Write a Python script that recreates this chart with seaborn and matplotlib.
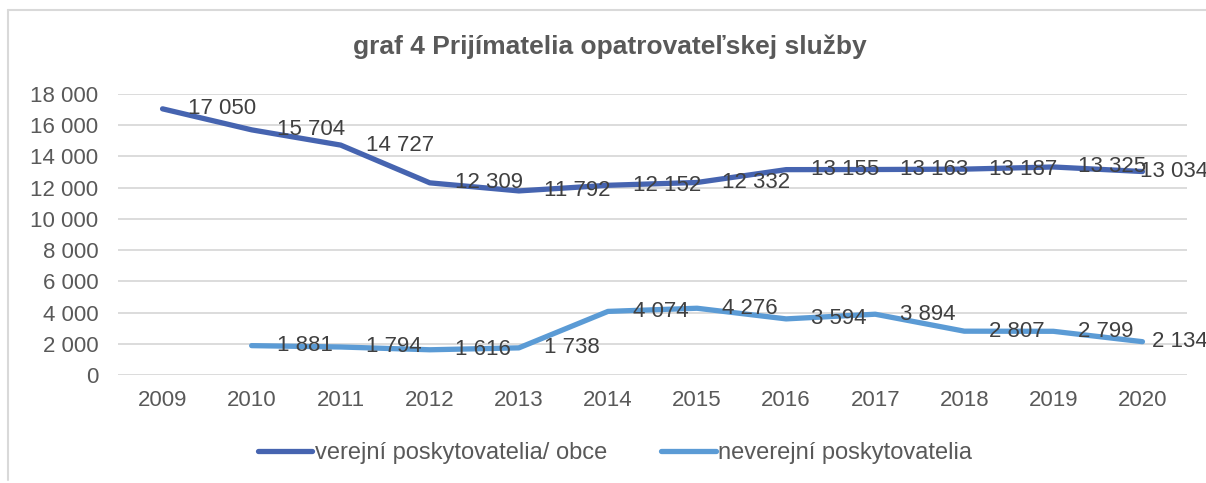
import seaborn as sns
import numpy as np
import matplotlib.pyplot as plt
import pandas as pd
from matplotlib.lines import Line2D
from matplotlib.ticker import FuncFormatter

years = [2009, 2010, 2011, 2012, 2013, 2014, 2015, 2016, 2017, 2018, 2019, 2020]
verejni = [17050, 15704, 14727, 12309, 11792, 12152, 12332, 13155, 13163, 13187, 13325, 13034]
neverejni = [np.nan, 1881, 1794, 1616, 1738, 4074, 4276, 3594, 3894, 2807, 2799, 2134]
series_names = ['verejní poskytovatelia/ obce', 'neverejní poskytovatelia']
title = 'graf 4 Prijímatelia opatrovateľskej služby'

df = pd.DataFrame({'rok': years, series_names[0]: verejni, series_names[1]: neverejni})
df = df.melt(id_vars='rok', var_name='typ', value_name='pocet')

sns.set_theme(style='white')
plt.rcParams['font.family'] = ['Liberation Sans', 'DejaVu Sans']

cols = ['#4664B0', '#5B9BD5']
fig = plt.figure(figsize=(12.06, 4.83), dpi=100)
ax = fig.add_axes([118 / 1206, 1 - 375 / 483, (1187 - 118) / 1206, (375 - 94) / 483])

sns.lineplot(data=df, x='rok', y='pocet', hue='typ', hue_order=series_names,
             palette=cols, linewidth=3.8, ax=ax, legend=False, solid_capstyle='round')

# data labels to the right of each point (last one pushed back inside, like excel)
for name, vals in zip(series_names, [verejni, neverejni]):
    for x, v in zip(years, vals):
        if np.isnan(v):
            continue
        last = x == years[-1]
        ax.annotate(f'{int(v):,}'.replace(',', ' '), (x, v),
                    xytext=(47, 0) if last else (18, 0),
                    textcoords='offset points', ha='right' if last else 'left',
                    va='center', fontsize=16, color='#404040', clip_on=False)

ax.set_xlim(2008.5, 2020.5)
ax.set_ylim(0, 18000)
ax.set_yticks(range(0, 18001, 2000))
ax.yaxis.set_major_formatter(FuncFormatter(lambda v, p: f'{int(v):,}'.replace(',', ' ')))
ax.set_xticks(years)
ax.set_xticklabels([str(y) for y in years])
ax.grid(axis='y', color='#D9D9D9', linewidth=1.3)
ax.set_axisbelow(True)
for s in ax.spines.values():
    s.set_visible(False)
ax.tick_params(axis='both', colors='#595959', labelsize=16, length=0)
ax.tick_params(axis='y', pad=14)
ax.tick_params(axis='x', pad=11)
ax.set_xlabel('')
ax.set_ylabel('')

fig.text(610 / 1206, 1 - 47 / 483, title, ha='center', va='center',
         fontsize=19, fontweight='bold', color='#595959')

handles = [Line2D([0], [0], color=c, lw=3.8, solid_capstyle='round') for c in cols]
fig.legend(handles, series_names, loc='center', bbox_to_anchor=(615 / 1206, 1 - 453 / 483),
           ncol=2, frameon=False, fontsize=17, handlelength=2.3, handletextpad=0.1,
           columnspacing=2.3, labelcolor='#595959')

# chart frame (cropped on the right)
fig.add_artist(Line2D([8 / 1206, 8 / 1206], [1 - 480 / 483, 1 - 10 / 483], color='#D9D9D9', lw=1.5))
fig.add_artist(Line2D([8 / 1206, 1], [1 - 10 / 483, 1 - 10 / 483], color='#D9D9D9', lw=1.5))

fig.savefig('out.png', dpi=100)
